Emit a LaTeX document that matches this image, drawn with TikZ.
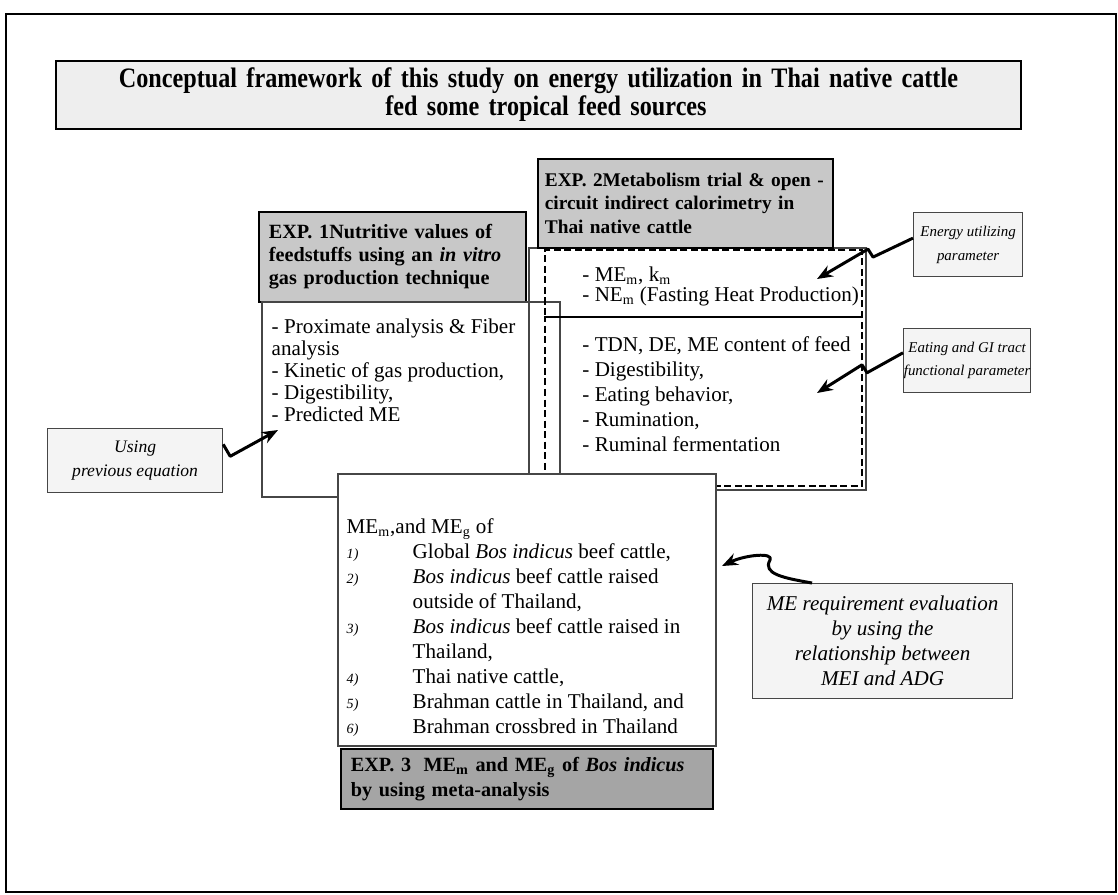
\documentclass[tikz,border=0pt]{standalone}
\usepackage{fontspec}
\setmainfont{Liberation Serif}
\newfontfamily\titlefont[FakeStretch=0.86]{Liberation Serif}
\usetikzlibrary{arrows.meta, positioning, fit, calc}
\definecolor{colHead}{RGB}{200, 200, 200}
\definecolor{colHeadDark}{RGB}{165, 165, 165}
\definecolor{colNote}{RGB}{244, 244, 244}
\definecolor{colTitle}{RGB}{238, 238, 238}
\definecolor{colLine}{RGB}{70, 70, 70}
\newcommand{\nitem}[1]{\makebox[1.32cm][l]{\footnotesize\itshape #1}}
\newcommand{\nindent}{\hspace*{1.32cm}}

\begin{document}
\begin{tikzpicture}[x=0.02cm, y=-0.02cm,
    headbox/.style={draw=black, line width=1pt, fill=colHead, anchor=north west,
        inner xsep=0.2cm, inner ysep=0pt, align=left,
        font=\fontsize{11.5}{13}\selectfont\bfseries},
    plainbox/.style={draw=colLine, line width=0.7pt, inner sep=0pt},
    notebox/.style={draw=colLine, line width=0.7pt, fill=colNote, anchor=north west,
        inner sep=0pt, align=center},
    dashbox/.style={draw=black, line width=1pt, dash pattern=on 4pt off 2pt, inner sep=0pt},
    listtxt/.style={anchor=north west, inner sep=0pt, align=left},
    curly/.style={line width=1.7pt, line join=round, -{Stealth[length=9pt, width=7pt]}}]
    \useasboundingbox (0,0) rectangle (1118,894);

    % --- Frame & title ---
    \draw[line width=1.4pt] (6,14) rectangle (1116,892);
    \node[draw=black, line width=1.2pt, fill=colTitle, anchor=north west, inner sep=0pt,
        minimum width=19.3cm, minimum height=1.36cm, text width=19cm, align=center,
        font=\titlefont\fontsize{16}{15.9}\selectfont\bfseries] (title) at (55,60)
        {Conceptual framework of this study on energy utilization in Thai native cattle\\
         \hspace*{0.3cm}fed some tropical feed sources};

    % --- EXP. 1 ---
    \node[headbox, minimum width=5.34cm, minimum height=1.8cm, text width=4.94cm] (exp1head) at (258,211)
        {EXP. 1Nutritive values of\\ feedstuffs using an \textit{in vitro}\\ gas production technique};
    \node[plainbox, fit={(262,302) (560,497)}] (exp1box) {};
    \node[listtxt, font=\fontsize{12}{12.5}\selectfont] (exp1list)
        at ([shift={(10,17)}]exp1box.north west)
        {- Proximate analysis \& Fiber\\ analysis\\ - Kinetic of gas production,\\
         - Digestibility,\\ - Predicted ME};

    % --- EXP. 2 ---
    \node[plainbox, fit={(529,248) (866,490)}] (exp2box) {};
    \node[dashbox, fit={(545,250) (862,317)}] (energybox) {};
    \node[dashbox, fit={(545,317) (862,486)}] (eatingbox) {};
    \node[headbox, inner xsep=0.14cm, minimum width=5.9cm, minimum height=1.78cm, text width=5.62cm,
        font=\fontsize{11}{13.4}\selectfont\bfseries] (exp2head) at (537,158)
        {EXP. 2Metabolism trial \&~open~-\\ circuit indirect calorimetry in\\ Thai native cattle};
    \node[listtxt, font=\fontsize{12}{11.6}\selectfont] (energylist)
        at ([shift={(38,17)}]energybox.north west)
        {- ME\textsubscript{m}, k\textsubscript{m}\\ - NE\textsubscript{m} (Fasting Heat Production)};
    \node[listtxt, font=\fontsize{12}{14.2}\selectfont] (eatinglist)
        at ([shift={(38,20)}]eatingbox.north west)
        {- TDN, DE, ME content of feed\\ - Digestibility,\\ - Eating behavior,\\
         - Rumination,\\ - Ruminal fermentation};

    % --- EXP. 3 ---
    \node[plainbox, fill=white, fit={(338,474) (716,746)}] (exp3box) {};
    \node[listtxt, font=\fontsize{12}{14.2}\selectfont] (exp3list)
        at ([shift={(9,45)}]exp3box.north west)
        {ME\textsubscript{m},and ME\textsubscript{g} of\\
         \nitem{1)}Global \textit{Bos indicus} beef cattle,\\
         \nitem{2)}\textit{Bos indicus} beef cattle raised\\
         \nindent outside of Thailand,\\
         \nitem{3)}\textit{Bos indicus} beef cattle raised in\\
         \nindent Thailand,\\
         \nitem{4)}Thai native cattle,\\
         \nitem{5)}Brahman cattle in Thailand, and\\
         \nitem{6)}Brahman crossbred in Thailand};
    \node[headbox, fill=colHeadDark, minimum width=7.44cm, minimum height=1.2cm, text width=7.04cm,
        font=\fontsize{11.5}{14.2}\selectfont\bfseries] (exp3head) at (340,748)
        {EXP. 3\; ME\textsubscript{m} and ME\textsubscript{g} of \textit{Bos indicus}\\ by using meta-analysis};

    % --- Side notes ---
    \node[notebox, minimum width=3.5cm, minimum height=1.28cm,
        font=\fontsize{10}{13.6}\selectfont\itshape] (usingnote) at (47,428) {Using\\ previous equation};
    \node[notebox, minimum width=2.18cm, minimum height=1.28cm,
        font=\fontsize{8.5}{13.6}\selectfont\itshape] (energynote) at (913,212) {Energy utilizing\\ parameter};
    \node[notebox, minimum width=2.54cm, minimum height=1.28cm,
        font=\fontsize{8.5}{13}\selectfont\itshape] (eatingnote) at (903,328) {Eating and GI tract\\ functional parameter};
    \node[notebox, minimum width=5.2cm, minimum height=2.3cm,
        font=\fontsize{12}{14.2}\selectfont\itshape] (mereqnote) at (752,583)
        {ME requirement evaluation\\ by using the\\ relationship between\\ MEI and ADG};

    % --- Arrows ---
    \coordinate (tipEnergy) at (817,279);
    \coordinate (tipEating) at (817,393);
    \coordinate (tipUsing) at (278,430);
    \coordinate (tipMEreq) at (722,566);
    \draw[curly] ($(energynote.north west)!0.4!(energynote.south west)$)
        -- ++(-40,19) -- ++(-5,-8) -- (tipEnergy);
    \draw[curly] ($(eatingnote.north west)!0.38!(eatingnote.south west)$)
        -- ++(-36,20) -- ++(-5,-8) -- (tipEating);
    \draw[curly] ($(usingnote.north east)!0.25!(usingnote.south east)$)
        -- ++(7,12) -- (tipUsing);
    \draw[curly] ($(mereqnote.north west)!0.23!(mereqnote.north east)$)
        .. controls ++(-28,-5) and (762,574) .. (770,560)
        .. controls (774,552) and (745,555) .. (tipMEreq);
\end{tikzpicture}
\end{document}
